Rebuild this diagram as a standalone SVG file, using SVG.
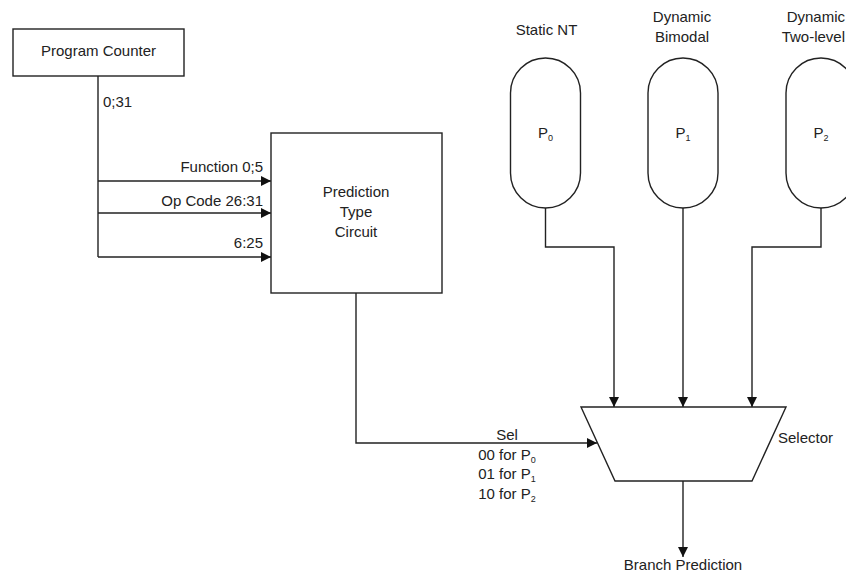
<svg xmlns="http://www.w3.org/2000/svg" width="846" height="573" viewBox="0 0 846 573">
<defs>
<style>
text{font-family:"Liberation Sans",Arial,sans-serif;font-size:15px;fill:#222}
.c{text-anchor:middle}
.r{text-anchor:end}
.sub{font-size:9px}
.box{fill:#fff;stroke:#222;stroke-width:1.4}
.ln{fill:none;stroke:#222;stroke-width:1.4}
</style>
<marker id="ah" viewBox="0 0 10 10" refX="10" refY="5" markerWidth="10" markerHeight="10" markerUnits="userSpaceOnUse" orient="auto">
<path d="M0,0 L10,5 L0,10 z" fill="#111"/>
</marker>
</defs>
<g id="connectors">
<path class="ln" d="M98,76 V257"/>
<path class="ln" d="M98,181 H271" marker-end="url(#ah)"/>
<path class="ln" d="M98,213 H271" marker-end="url(#ah)"/>
<path class="ln" d="M98,257 H271" marker-end="url(#ah)"/>
<path class="ln" d="M356,293 V443 H597" marker-end="url(#ah)"/>
<path class="ln" d="M545.5,208 V247 H614 V407" marker-end="url(#ah)"/>
<path class="ln" d="M683,208 V407" marker-end="url(#ah)"/>
<path class="ln" d="M821,208 V247 H752 V407" marker-end="url(#ah)"/>
<path class="ln" d="M683,481 V557" marker-end="url(#ah)"/>
<text x="103" y="107">0;31</text>
<text class="r" x="263" y="172">Function 0;5</text>
<text class="r" x="263" y="206">Op Code 26:31</text>
<text class="r" x="263" y="248">6:25</text>
<text class="c" x="507" y="440">Sel</text>
<text class="c" x="507" y="460">00 for P<tspan class="sub" dy="3">0</tspan></text>
<text class="c" x="507" y="479">01 for P<tspan class="sub" dy="3">1</tspan></text>
<text class="c" x="507" y="499">10 for P<tspan class="sub" dy="3">2</tspan></text>
</g>
<g id="pc">
<rect class="box" x="13" y="29" width="171" height="47"/>
<text class="c" x="98.5" y="56">Program Counter</text>
</g>
<g id="ptc">
<rect class="box" x="271" y="133" width="171" height="160"/>
<text class="c" x="356" y="197">Prediction</text>
<text class="c" x="356" y="217">Type</text>
<text class="c" x="356" y="237">Circuit</text>
</g>
<g id="p0">
<rect class="box" x="510.5" y="58" width="70" height="150" rx="35" ry="35"/>
<text class="c" x="545.5" y="138">P<tspan class="sub" dy="3">0</tspan></text>
<text class="c" x="546.5" y="35">Static NT</text>
</g>
<g id="p1">
<rect class="box" x="648" y="58" width="70" height="150" rx="35" ry="35"/>
<text class="c" x="683" y="138">P<tspan class="sub" dy="3">1</tspan></text>
<text class="c" x="682" y="22">Dynamic</text>
<text class="c" x="682" y="42">Bimodal</text>
</g>
<g id="p2">
<rect class="box" x="786" y="58" width="70" height="150" rx="35" ry="35"/>
<text class="c" x="821" y="138">P<tspan class="sub" dy="3">2</tspan></text>
<text class="r" x="845" y="22">Dynamic</text>
<text class="r" x="845" y="42">Two-level</text>
</g>
<g id="selector">
<polygon class="box" points="581,407 786,407 752,481 615,481"/>
<text x="778" y="443">Selector</text>
</g>
<g id="output">
<text class="c" x="683" y="570">Branch Prediction</text>
</g>
</svg>
